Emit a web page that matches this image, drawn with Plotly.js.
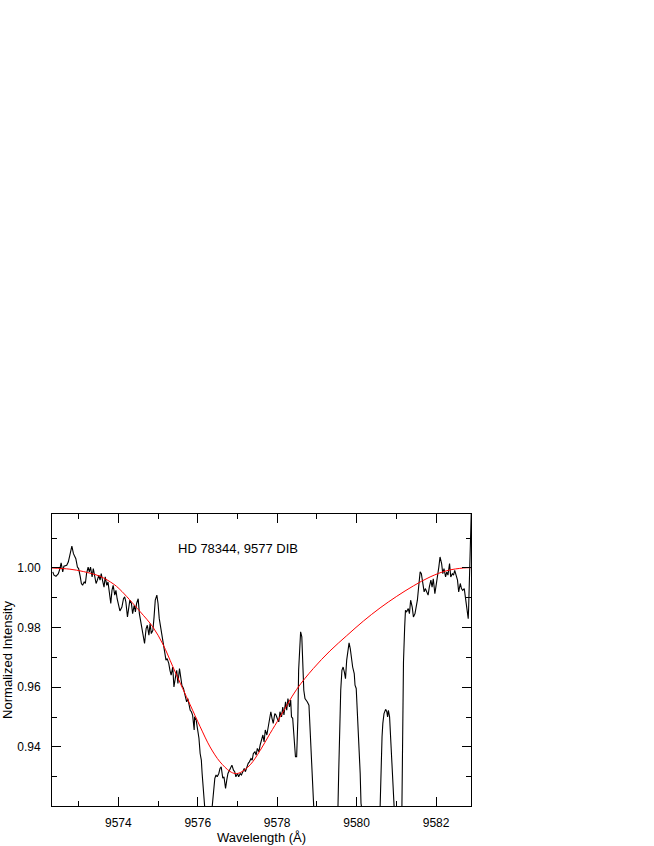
<!DOCTYPE html>
<html>
<head>
<meta charset="utf-8">
<script src="https://cdn.plot.ly/plotly-3.0.1.min.js"></script>
<style>html,body{margin:0;padding:0;background:#fff;}#chart{width:654px;height:846px;}</style>
</head>
<body>
<div id="chart"></div>
<script>
// Observed spectrum (black)
const wavelength = [
9572.35,9572.38,9572.43,9572.49,9572.53,9572.56,9572.60,9572.63,9572.70,9572.74,9572.78,9572.83,9572.87,9572.90,9572.93,9572.97,
9573.00,9573.04,9573.07,9573.10,9573.14,9573.17,9573.20,9573.24,9573.27,9573.30,9573.34,9573.37,9573.41,9573.44,9573.47,9573.51,
9573.54,9573.57,9573.61,9573.64,9573.67,9573.71,9573.74,9573.77,9573.81,9573.84,9573.87,9573.91,9573.94,9573.97,9574.01,9574.04,
9574.09,9574.13,9574.16,9574.19,9574.23,9574.26,9574.29,9574.33,9574.36,9574.40,9574.43,9574.46,9574.50,9574.53,9574.56,9574.60,
9574.63,9574.66,9574.70,9574.73,9574.77,9574.80,9574.83,9574.87,9574.90,9574.93,9574.97,9575.00,9575.03,9575.07,9575.10,9575.13,
9575.17,9575.20,9575.23,9575.27,9575.30,9575.33,9575.37,9575.40,9575.44,9575.47,9575.50,9575.54,9575.57,9575.60,9575.64,
9575.69,9575.72,9575.75,9575.79,
9575.81,9575.84,9575.87,9575.91,9575.92,9575.96,9575.99,9576.03,9576.06,9576.09,9576.11,9576.13,9576.14,9576.16,9576.26,
9576.36,9576.40,9576.43,9576.46,9576.49,9576.53,9576.56,9576.59,9576.63,9576.66,9576.70,9576.73,9576.76,9576.80,9576.83,9576.86,
9576.90,9576.93,9576.96,9577.00,9577.03,9577.07,9577.10,9577.13,9577.17,9577.20,9577.24,9577.27,9577.30,9577.34,9577.37,9577.40,
9577.44,9577.47,9577.50,9577.54,9577.57,
9577.60,9577.64,9577.67,9577.70,9577.74,9577.77,9577.80,9577.84,9577.87,9577.90,9577.94,9577.97,9578.00,9578.04,9578.07,9578.11,
9578.14,9578.17,9578.21,9578.24,9578.27,9578.31,9578.34,9578.36,9578.39,9578.43,9578.46,9578.49,9578.52,9578.54,9578.57,9578.59,
9578.62,9578.64,9578.67,9578.70,9578.73,9578.76,9578.80,9578.83,9578.86,9578.90,9578.92,9579.20,
9579.53,9579.55,9579.57,9579.60,9579.63,9579.66,9579.69,9579.72,9579.75,9579.79,9579.81,9579.84,9579.87,9579.90,9579.94,9579.96,
9579.99,9580.02,9580.06,9580.09,9580.11,9580.35,
9580.59,9580.61,9580.64,9580.66,9580.69,9580.73,9580.76,9580.78,9580.80,9580.83,9580.85,9580.88,9580.90,9581.02,
9581.14,9581.16,9581.18,9581.21,
9581.23,9581.26,9581.30,9581.33,9581.36,9581.40,9581.43,9581.47,9581.50,9581.53,9581.57,9581.60,9581.63,9581.67,9581.70,9581.73,
9581.77,9581.80,9581.83,9581.87,9581.90,9581.93,9581.97,9582.00,9582.04,9582.07,9582.10,9582.14,9582.17,9582.20,9582.24,9582.27,
9582.30,9582.34,9582.37,9582.41,9582.44,9582.47,9582.51,9582.54,9582.57,9582.61,9582.64,9582.67,9582.71,9582.74,9582.77,9582.81,
9582.82,9582.84,9582.86,9582.90
];
const intensity = [
0.9987,0.9976,0.9972,0.9981,0.9998,1.0017,0.9987,1.0006,1.0009,1.0020,1.0043,1.0073,1.0048,1.0037,1.0031,1.0003,
0.9998,0.9972,0.9948,0.9942,0.9953,0.9948,0.9981,1.0003,0.9987,1.0003,0.9970,0.9998,0.9964,0.9948,0.9959,0.9976,
0.9959,0.9981,0.9953,0.9936,0.9970,0.9942,0.9953,0.9925,0.9881,0.9925,0.9942,0.9909,0.9925,0.9897,0.9869,0.9856,
0.9869,0.9897,0.9903,0.9886,0.9836,0.9858,0.9892,0.9881,0.9847,0.9875,0.9853,0.9881,0.9897,0.9847,0.9825,0.9786,
0.9775,0.9747,0.9797,0.9808,0.9775,0.9814,0.9780,0.9791,0.9836,0.9892,0.9909,0.9881,0.9831,0.9797,0.9769,0.9741,
0.9713,0.9691,0.9696,0.9680,0.9657,0.9641,0.9668,0.9601,0.9635,0.9657,0.9613,0.9663,0.9635,0.9607,0.9596,
0.9573,0.9551,0.9562,0.9534,
0.9523,0.9518,0.9507,0.9457,0.9501,0.9490,0.9468,0.9429,0.9378,0.9356,0.9311,0.9266,0.9222,0.9195,0.9050,
0.9195,0.9255,0.9295,0.9306,0.9300,0.9311,0.9328,0.9333,0.9295,0.9300,0.9261,0.9289,0.9311,0.9322,0.9333,0.9339,
0.9322,0.9317,0.9300,0.9311,0.9300,0.9311,0.9306,0.9317,0.9328,0.9317,0.9339,0.9345,0.9350,0.9361,0.9356,0.9378,
0.9384,0.9373,0.9395,0.9384,0.9406,
0.9422,0.9440,0.9417,0.9457,0.9440,0.9468,0.9490,0.9518,0.9496,0.9479,0.9512,0.9507,0.9496,0.9484,0.9518,0.9501,
0.9534,0.9507,0.9551,0.9523,0.9562,0.9534,0.9557,0.9501,0.9496,0.9434,0.9367,0.9367,0.9490,0.9657,0.9775,0.9786,
0.9769,0.9691,0.9590,0.9562,0.9557,0.9551,0.9540,0.9457,0.9356,0.9266,0.9199,0.9000,
0.9195,0.9322,0.9457,0.9590,0.9657,0.9668,0.9652,0.9629,0.9691,0.9747,0.9749,0.9730,0.9696,0.9668,0.9646,0.9607,
0.9596,0.9512,0.9422,0.9311,0.9211,0.9000,
0.9190,0.9322,0.9434,0.9479,0.9512,0.9526,0.9518,0.9501,0.9523,0.9501,0.9434,0.9322,0.9211,0.9000,
0.9190,0.9457,0.9685,0.9802,
0.9858,0.9853,0.9864,0.9847,0.9892,0.9869,0.9836,0.9847,0.9864,0.9892,0.9948,0.9987,0.9981,0.9948,0.9920,0.9931,
0.9914,0.9909,0.9936,0.9959,0.9936,0.9964,0.9914,0.9948,0.9976,1.0003,1.0037,1.0015,0.9981,0.9998,0.9970,0.9987,
0.9976,1.0015,0.9970,0.9981,0.9976,0.9992,0.9970,0.9959,0.9920,0.9948,0.9931,0.9925,0.9931,0.9903,0.9858,0.9830,
0.9864,0.9948,1.0037,1.0250
];
// Fitted profile (red)
const fitWavelength = [
9572.33,9572.78,9573.12,9573.54,9573.87,9574.04,9574.54,9574.87,9575.12,9575.37,9575.62,9575.81,9576.06,9576.31,9576.56,
9576.81,9576.94,9577.07,9577.32,9577.57,9577.82,9578.07,9578.49,9578.91,9579.33,9579.75,9580.17,9580.59,9581.01,9581.43,
9581.85,9582.27,9582.69,9582.88
];
const fitIntensity = [
1.0000,0.9996,0.9988,0.9972,0.9947,0.9928,0.9855,0.9802,0.9745,0.9670,0.9596,0.9541,0.9468,0.9400,0.9350,
0.9318,0.9311,0.9314,0.9340,0.9388,0.9445,0.9500,0.9593,0.9663,0.9722,0.9773,0.9822,0.9866,0.9905,0.9940,
0.9970,0.9991,1.0000,1.0001
];
const xTickVals = [9574, 9576, 9578, 9580, 9582];
const yTickVals = [0.94, 0.96, 0.98, 1.00];
const labelText = "HD 78344, 9577 DIB";

const font = "Arial, 'Liberation Sans', sans-serif";
const traces = [
  {x: wavelength, y: intensity, type: 'scatter', mode: 'lines',
   line: {color: '#000000', width: 1.1}, hoverinfo: 'skip'},
  {x: fitWavelength, y: fitIntensity, type: 'scatter', mode: 'lines',
   line: {color: '#ff0000', width: 1, shape: 'spline', smoothing: 1}, hoverinfo: 'skip'}
];
const layout = {
  width: 654, height: 846,
  margin: {l: 52, r: 183, t: 514, b: 40},
  paper_bgcolor: '#ffffff', plot_bgcolor: '#ffffff',
  showlegend: false,
  font: {family: font, size: 12, color: '#000'},
  xaxis: {
    range: [9572.33, 9582.88], tickvals: xTickVals, ticktext: xTickVals.map(String),
    ticks: 'inside', ticklen: 9, tickwidth: 1, tickcolor: '#000',
    minor: {dtick: 1, tick0: 9573, ticks: 'inside', ticklen: 5, tickwidth: 1, tickcolor: '#000'},
    showline: true, linecolor: '#000', linewidth: 1, mirror: 'ticks',
    showgrid: false, zeroline: false, ticklabelstandoff: 6,
    tickfont: {family: font, size: 12, color: '#000'},
    title: {text: 'Wavelength (Å)', font: {family: font, size: 13, color: '#000'}, standoff: 2}
  },
  yaxis: {
    range: [0.9202, 1.0181], tickvals: yTickVals, ticktext: yTickVals.map(v => v.toFixed(2)),
    ticks: 'inside', ticklen: 9, tickwidth: 1, tickcolor: '#000',
    minor: {dtick: 0.01, tick0: 0.93, ticks: 'inside', ticklen: 5, tickwidth: 1, tickcolor: '#000'},
    showline: true, linecolor: '#000', linewidth: 1, mirror: 'ticks',
    showgrid: false, zeroline: false, ticklabelstandoff: 8,
    tickfont: {family: font, size: 12, color: '#000'},
    title: {text: 'Normalized Intensity', font: {family: font, size: 13, color: '#000'}, standoff: 3}
  },
  annotations: [{
    x: 9577.02, y: 1.0066, xref: 'x', yref: 'y', text: labelText, showarrow: false,
    xanchor: 'center', yanchor: 'middle', font: {family: font, size: 13, color: '#000'}
  }]
};
Plotly.newPlot('chart', traces, layout, {staticPlot: true, displayModeBar: false});
</script>
</body>
</html>
